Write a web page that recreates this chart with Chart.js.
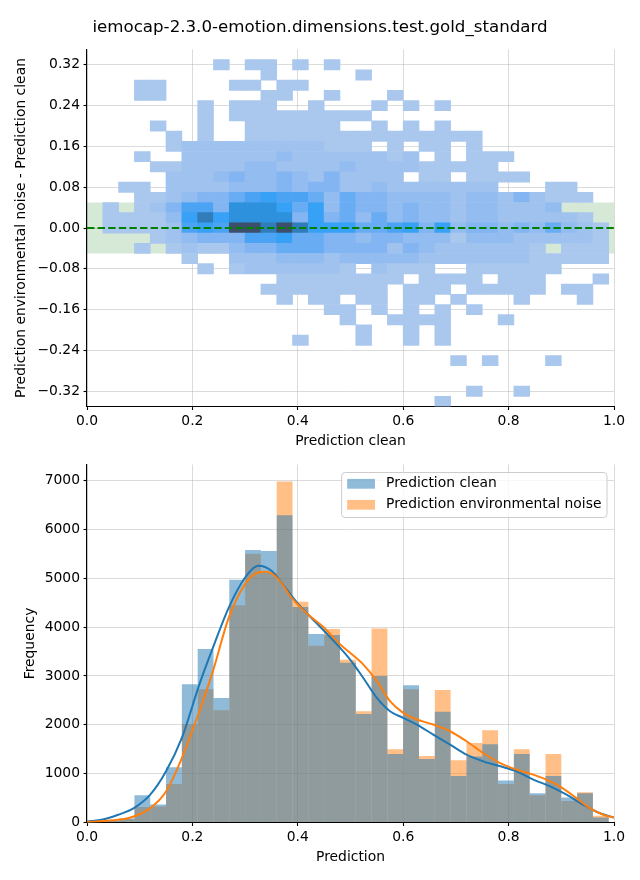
<!DOCTYPE html>
<html><head><meta charset="utf-8">
<script src="https://cdn.jsdelivr.net/npm/chart.js@4.4.0/dist/chart.umd.min.js"></script>
<style>
body{margin:0;background:#fff;width:640px;height:880px;position:relative;overflow:hidden;font-family:"DejaVu Sans";}
#title{position:absolute;left:0;top:16px;width:640px;text-align:center;font-size:16.67px;line-height:22px;color:#000;font-family:"DejaVu Sans";}
#w1{position:absolute;left:0;top:0;width:640px;height:450px;}
#w2{position:absolute;left:0;top:450px;width:640px;height:430px;}
</style></head><body>
<div id="w1"><canvas id="c1" width="640" height="450"></canvas></div>
<div id="w2"><canvas id="c2" width="640" height="430"></canvas></div>
<div id="title">iemocap-2.3.0-emotion.dimensions.test.gold_standard</div>
<script>
// ---------- data ----------
const xBinWidth = 0.03;
const yBinWidth = 0.02;
const yRowCenters = [0.32,0.30,0.28,0.26,0.24,0.22,0.20,0.18,0.16,0.14,0.12,0.10,0.08,0.06,0.04,0.02,0.00,
  -0.02,-0.04,-0.06,-0.08,-0.10,-0.12,-0.14,-0.16,-0.18,-0.20,-0.22,-0.24,-0.26,-0.28,-0.30,-0.32,-0.34];
// count level per cell (hex digit, 0 = empty), one string per row, 33 columns
const heatRows = [
  "00000 00010 11010 10000 00000 00000 000",
  "00000 00000 01000 00100 00000 00000 000",
  "00011 00001 10110 00000 00000 00000 000",
  "00011 00000 01100 10001 00000 00000 000",
  "00000 00101 11001 00010 10100 00000 000",
  "00000 00101 11111 11100 00000 00000 000",
  "00001 00100 11111 10010 10100 00000 000",
  "00000 10100 11111 11111 11111 00000 000",
  "00000 12222 22222 11101 01101 00000 000",
  "00010 02222 22322 22221 20101 11000 000",
  "00001 12222 33222 23222 21111 10000 000",
  "00000 22234 33432 42222 01101 11100 000",
  "00110 22223 33434 42232 22222 20001 100",
  "00011 23445 67665 35443 33323 32421 110",
  "01012 46648 88757 35443 43323 32223 000",
  "01111 37978 88847 45353 43323 32222 210",
  "01111 2676a a9a97 77556 74734 43435 321",
  "00001 23444 66755 44344 33313 33222 221",
  "00010 12113 44555 44442 43222 22210 111",
  "00000 01002 22333 23333 32222 22211 111",
  "00000 00101 22222 21021 11001 11111 000",
  "00000 00000 00111 11111 01111 01110 001",
  "00000 00000 01111 11110 11101 11110 110",
  "00000 00000 00101 10110 11010 00100 010",
  "00000 00000 00000 11010 10101 00000 000",
  "00000 00000 00000 01001 11100 01000 000",
  "00000 00000 00000 00100 10100 00000 000",
  "00000 00000 00010 00100 10100 00000 000",
  "00000 00000 00000 00000 00000 00000 000",
  "00000 00000 00000 00000 00010 10001 000",
  "00000 00000 00000 00000 00000 00000 000",
  "00000 00000 00000 00000 00000 00000 000",
  "00000 00000 00000 00000 00001 00100 000",
  "00000 00000 00000 00000 00100 00000 000"
];
const levelColors = ['#ffffff','#aac7ee','#a0c2ef','#93bcf0','#82b5f1','#68acf3','#4ca3f4','#37a1f6','#2d91dd','#317cba','#3d4f6a'];
const bandHalf = 0.05;

const histClean = [10,40,80,560,370,1130,2830,3550,2550,4970,5580,5560,6290,4410,3860,3840,3270,2220,3000,1400,2810,1300,2265,950,1350,1600,860,1400,600,950,510,600,100];
const histNoise = [5,30,75,315,330,790,2010,2730,2300,4450,5500,5110,6980,4520,3620,3960,3330,2280,3970,1500,2730,1360,2710,1275,1630,1890,790,1500,560,1400,440,620,140];

const kdeCleanX = [0,0.03,0.059,0.089,0.12,0.15,0.18,0.199,0.211,0.239,0.269,0.30,0.325,0.35,0.376,0.401,0.419,0.45,0.48,0.499,0.524,0.55,0.575,0.60,0.626,0.657,0.689,0.72,0.752,0.784,0.815,0.847,0.879,0.91,0.942,0.973,1.0];
const kdeCleanY = [20,60,158,294,569,1047,1731,2347,2757,3579,4400,5015,5255,5153,4810,4469,4264,3921,3579,3340,2963,2552,2279,2142,2005,1800,1595,1390,1252,1150,1047,877,739,569,363,191,103];
const kdeNoiseX = [0,0.03,0.059,0.089,0.12,0.15,0.18,0.211,0.239,0.269,0.30,0.325,0.341,0.363,0.388,0.419,0.45,0.48,0.499,0.524,0.55,0.575,0.60,0.626,0.657,0.689,0.72,0.752,0.784,0.815,0.847,0.879,0.897,0.929,0.954,0.98,1.0];
const kdeNoiseY = [10,30,55,123,294,636,1320,2211,3100,4195,4880,5118,5132,4982,4605,4264,3989,3648,3476,3237,2895,2484,2244,2108,2005,1868,1663,1423,1217,1082,979,842,739,499,294,158,103];

const xTickValues = [0,0.2,0.4,0.6,0.8,1.0];
const xTickLabels = ['0.0','0.2','0.4','0.6','0.8','1.0'];
const yTickValues = [-0.32,-0.24,-0.16,-0.08,0,0.08,0.16,0.24,0.32];
const yTickLabels = ['\u22120.32','\u22120.24','\u22120.16','\u22120.08','0.00','0.08','0.16','0.24','0.32'];
const fTickValues = [0,1000,2000,3000,4000,5000,6000,7000];
const fTickLabels = ['0','1000','2000','3000','4000','5000','6000','7000'];
const legendLabels = ['Prediction clean','Prediction environmental noise'];

// ---------- build ----------
Chart.defaults.font.family = 'DejaVu Sans';
Chart.defaults.color = '#000';
const FS = 13.89;
const font = {family:'DejaVu Sans', size:FS};
const gridColor = 'rgba(176,176,176,0.45)';

const heatData = [], heatColors = [];
heatRows.forEach((row, r) => {
  const s = row.replace(/ /g,'');
  for (let c = 0; c < s.length; c++) {
    const lvl = parseInt(s[c], 16);
    if (lvl > 0) {
      heatData.push({x:(c+0.5)*xBinWidth, y:[yRowCenters[r]-yBinWidth/2, yRowCenters[r]+yBinWidth/2]});
      heatColors.push(levelColors[lvl]);
    }
  }
});

function axisCommon(tickVals, tickLabs, titleText, titlePad, fitFn) {
  return {
    afterBuildTicks: s => { s.ticks = tickVals.map(v => ({value:v})); },
    ticks: {callback: (v,i) => tickLabs[i], font, color:'#000', padding:3.5, maxRotation:0, autoSkip:false},
    grid: {color:gridColor, lineWidth:1, tickColor:'#000', tickLength:3.5, tickWidth:1.1, drawTicks:true, offset:false},
    border: {display:true, color:'#000', width:1.1},
    title: {display:true, text:titleText, font, color:'#000', padding:titlePad},
    afterFit: fitFn,
    z: 1
  };
}

new Chart(document.getElementById('c1'), {
  type:'bar',
  data:{datasets:[
    {type:'line', data:[{x:0,y:bandHalf},{x:1,y:bandHalf}], borderWidth:0, pointRadius:0, fill:false, order:5},
    {type:'line', data:[{x:0,y:-bandHalf},{x:1,y:-bandHalf}], borderWidth:0, pointRadius:0, fill:'-1', backgroundColor:'rgba(0,120,0,0.16)', order:4},
    {type:'bar', data:heatData, backgroundColor:heatColors, borderWidth:0, barPercentage:1, categoryPercentage:1, order:2},
    {type:'line', data:[{x:0,y:0},{x:1,y:0}], borderColor:'#008000', borderWidth:2, borderDash:[7.4,3.2], pointRadius:0, fill:false, order:1}
  ]},
  options:{
    responsive:false, animation:false,
    layout:{padding:{top:49.5,right:26,bottom:0,left:0}},
    plugins:{legend:{display:false}, tooltip:{enabled:false}, title:{display:false}},
    scales:{
      x: Object.assign({type:'linear', min:0, max:1, offset:false}, axisCommon(xTickValues, xTickLabels, 'Prediction clean', {top:0,bottom:0}, s=>{s.height=43.5;})),
      y: Object.assign({type:'linear', min:-0.35, max:0.35}, axisCommon(yTickValues, yTickLabels, 'Prediction environmental noise - Prediction clean', {top:12.7,bottom:0}, s=>{s.width=87;}))
    }
  }
});

const legendPlugin = {
  id:'mplLegend',
  afterDraw(chart) {
    const ctx = chart.ctx, ca = chart.chartArea;
    ctx.save();
    ctx.font = FS + 'px "DejaVu Sans"';
    const tw = Math.max(...legendLabels.map(t => ctx.measureText(t).width));
    const pad = 0.4*FS, hl = 2*FS, htp = 0.8*FS;
    const right = ca.right - 7, top = ca.top + 8;
    const w = pad + hl + htp + tw + pad, h = 45;
    const left = right - w;
    ctx.beginPath();
    ctx.roundRect(left, top, w, h, 3.5);
    ctx.fillStyle = 'rgba(255,255,255,0.8)';
    ctx.fill();
    ctx.strokeStyle = '#cccccc';
    ctx.lineWidth = 1;
    ctx.stroke();
    const cols = ['rgba(31,119,180,0.5)','rgba(255,127,14,0.5)'];
    legendLabels.forEach((t, i) => {
      const cy = top + 11.3 + i*21;
      ctx.fillStyle = cols[i];
      ctx.fillRect(left + pad, cy - 4.9, hl, 9.8);
      ctx.fillStyle = '#000';
      ctx.textBaseline = 'middle';
      ctx.textAlign = 'left';
      ctx.fillText(t, left + pad + hl + htp, cy);
    });
    ctx.restore();
  }
};

const mkXY = (xs, ys) => xs.map((x,i) => ({x, y:ys[i]}));
const mkHist = vals => vals.map((v,i) => ({x:(i+0.5)*xBinWidth, y:v}));

new Chart(document.getElementById('c2'), {
  type:'bar',
  data:{datasets:[
    {type:'bar', label:legendLabels[0], data:mkHist(histClean), backgroundColor:'rgba(31,119,180,0.5)', borderWidth:0, barPercentage:1, categoryPercentage:1, grouped:false, inflateAmount:0, order:3},
    {type:'bar', label:legendLabels[1], data:mkHist(histNoise), backgroundColor:'rgba(255,127,14,0.5)', borderWidth:0, barPercentage:1, categoryPercentage:1, grouped:false, inflateAmount:0, order:4},
    {type:'line', data:mkXY(kdeCleanX, kdeCleanY), borderColor:'#1f77b4', borderWidth:2, pointRadius:0, fill:false, cubicInterpolationMode:'monotone', order:2},
    {type:'line', data:mkXY(kdeNoiseX, kdeNoiseY), borderColor:'#ff7f0e', borderWidth:2, pointRadius:0, fill:false, cubicInterpolationMode:'monotone', order:1}
  ]},
  options:{
    responsive:false, animation:false,
    layout:{padding:{top:14.5,right:26,bottom:0,left:0}},
    plugins:{legend:{display:false}, tooltip:{enabled:false}, title:{display:false}},
    scales:{
      x: Object.assign({type:'linear', min:0, max:1, offset:false}, axisCommon(xTickValues, xTickLabels, 'Prediction', {top:0,bottom:14}, s=>{s.height=57.5;})),
      y: Object.assign({type:'linear', min:0, max:7329}, axisCommon(fTickValues, fTickLabels, 'Frequency', {top:21.7,bottom:0}, s=>{s.width=87;}))
    }
  },
  plugins:[legendPlugin]
});
</script>
</body></html>
